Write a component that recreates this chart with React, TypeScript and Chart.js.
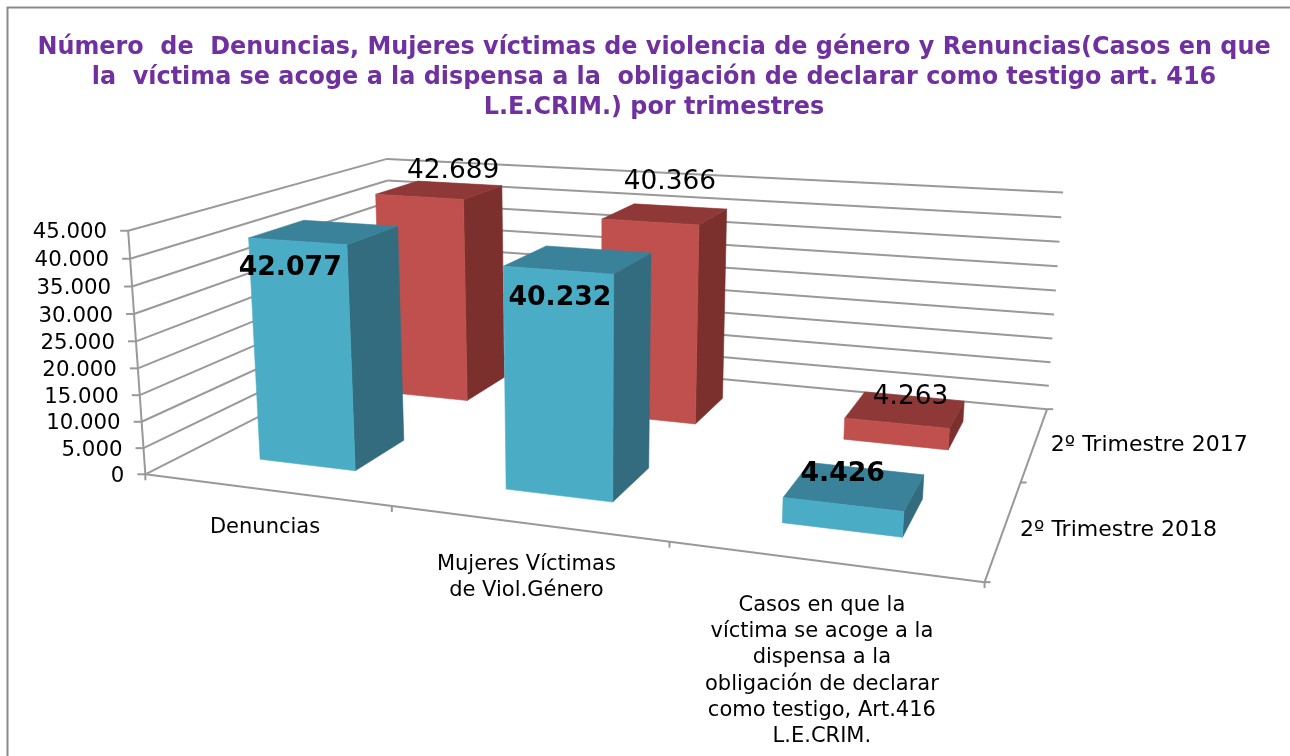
import React, { useEffect, useRef } from "react";
import { Chart, registerables } from "chart.js";

Chart.register(...registerables);

// ---- data ----
const categories: string[][] = [
  ["Denuncias"],
  ["Mujeres Víctimas", "de Viol.Género"],
  ["Casos en que la", "víctima se acoge a la", "dispensa a la", "obligación de declarar", "como testigo, Art.416", "L.E.CRIM."],
];
const seriesNames = ["2º Trimestre 2018", "2º Trimestre 2017"];
const values2018 = [42077, 40232, 4426];
const values2017 = [42689, 40366, 4263];
const titleLines = [
  "Número  de  Denuncias, Mujeres víctimas de violencia de género y Renuncias(Casos en que",
  "la  víctima se acoge a la dispensa a la  obligación de declarar como testigo art. 416",
  "L.E.CRIM.) por trimestres",
];

// ---- styles ----
const FONT = '"DejaVu Sans", Verdana, sans-serif';
const PURPLE = "#7030A0";
const GRID = "#999999";
const seriesColors = [
  { front: "#4BACC6", top: "#3A8299", side: "#326C7E" },
  { front: "#C0504D", top: "#8E3937", side: "#7C302E" },
];
// label placement relative to the top centre of a bar's front face
const labelOffsets = [
  [[-7, 27], [2, 28], [0, -30]],
  [[34, -26], [20, -40], [14, -26]],
];

// ---- view calibration of the 3D box: [u, v, w, screenX, screenY] ----
const viewPoints: number[][] = [
  [0, 0, 0, 146, 474.5], [1, 0, 0, 985, 582], [1, 0, 1, 1047, 409], [0, 0, 1, 392, 349],
  [1 / 3, 0, 0, 392, 506], [2 / 3, 0, 0, 669, 541.5], [1, 0, 0.5, 1021, 482],
  [0, 1, 0, 128, 230.5], [0, 1, 1, 388, 158], [1, 1, 1, 1063, 193],
  [0.1, 0.935, 0.15, 249, 238], [0.236, 0.935, 0.15, 348, 245], [0.236, 0.935, 0.35, 399, 227],
];

function fitView(points: number[][]): number[] {
  const n = 11;
  const A: number[][] = Array.from({ length: n }, () => new Array(n + 1).fill(0));
  const add = (row: number[], rhs: number) => {
    for (let i = 0; i < n; i++) {
      for (let j = 0; j < n; j++) A[i][j] += row[i] * row[j];
      A[i][n] += row[i] * rhs;
    }
  };
  for (const [u, v, w, sx, sy] of points) {
    const x = sx / 1000, y = sy / 1000;
    add([u, v, w, 1, 0, 0, 0, 0, -x * u, -x * v, -x * w], x);
    add([0, 0, 0, 0, u, v, w, 1, -y * u, -y * v, -y * w], y);
  }
  for (let c = 0; c < n; c++) {
    let p = c;
    for (let r = c + 1; r < n; r++) if (Math.abs(A[r][c]) > Math.abs(A[p][c])) p = r;
    [A[c], A[p]] = [A[p], A[c]];
    for (let r = 0; r < n; r++) {
      if (r === c) continue;
      const f = A[r][c] / A[c][c];
      for (let k = c; k <= n; k++) A[r][k] -= f * A[c][k];
    }
  }
  return A.map((row, i) => row[n] / row[i]);
}
const M = fitView(viewPoints);
const project = (u: number, v: number, w: number): [number, number] => {
  const d = M[8] * u + M[9] * v + M[10] * w + 1;
  return [
    (1000 * (M[0] * u + M[1] * v + M[2] * w + M[3])) / d,
    (1000 * (M[4] * u + M[5] * v + M[6] * w + M[7])) / d,
  ];
};

const fmt = (n: number) => String(n).replace(/\B(?=(\d{3})+(?!\d))/g, ".");
const DEPTH = 0.4; // bar depth as a share of its series slot

function line(ctx: CanvasRenderingContext2D, a: number[], b: number[]) {
  ctx.beginPath();
  ctx.moveTo(a[0], a[1]);
  ctx.lineTo(b[0], b[1]);
  ctx.stroke();
}
function quad(ctx: CanvasRenderingContext2D, pts: number[][], fill: string) {
  ctx.beginPath();
  pts.forEach((p, i) => (i ? ctx.lineTo(p[0], p[1]) : ctx.moveTo(p[0], p[1])));
  ctx.closePath();
  ctx.fillStyle = fill;
  ctx.strokeStyle = fill;
  ctx.lineWidth = 0.6;
  ctx.fill();
  ctx.stroke();
}

const box3d = {
  id: "box3d",
  beforeDatasetsDraw(chart: any) {
    const ctx: CanvasRenderingContext2D = chart.ctx;
    const y = chart.scales.y;
    const x = chart.scales.x;
    const area = chart.chartArea;
    ctx.save();
    // outer frame (right and bottom edges lie outside the picture)
    ctx.strokeStyle = "#8a8a8a";
    ctx.lineWidth = 2;
    ctx.strokeRect(7.5, 7.5, 1320, 800);

    ctx.strokeStyle = GRID;
    ctx.lineWidth = 2;
    ctx.lineCap = "butt";
    // walls
    for (const t of y.ticks) {
      const v = (area.bottom - y.getPixelForValue(t.value)) / area.height;
      line(ctx, project(0, v, 0), project(0, v, 1));
      line(ctx, project(0, v, 1), project(1, v, 1));
      const p = project(0, v, 0);
      line(ctx, p, [p[0] - 8, p[1]]);
    }
    // axes
    line(ctx, project(0, 0, 0), project(0, 1, 0));
    line(ctx, project(0, 0, 0), project(1, 0, 0));
    line(ctx, project(1, 0, 0), project(1, 0, 1));
    // category ticks
    for (let i = 0; i <= categories.length; i++) {
      const p = project(i / categories.length, 0, 0);
      line(ctx, p, [p[0], p[1] + 6]);
    }
    // depth ticks
    for (let i = 0; i <= seriesNames.length; i++) {
      const p = project(1, 0, i / seriesNames.length);
      line(ctx, p, [p[0] + 6, p[1]]);
    }
    // labels
    ctx.fillStyle = "#000";
    ctx.textBaseline = "middle";
    ctx.font = `21.3px ${FONT}`;
    ctx.textAlign = "right";
    for (const t of y.ticks) {
      const v = (area.bottom - y.getPixelForValue(t.value)) / area.height;
      const p = project(0, v, 0);
      ctx.fillText(t.label, p[0] - 21, p[1] + 2);
    }
    ctx.font = `21px ${FONT}`;
    ctx.textAlign = "center";
    categories.forEach((_, i) => {
      const u = (x.getPixelForValue(i) - area.left) / area.width;
      const p = project(u, 0, 0);
      const lines = x.getLabelForValue(i) as unknown as string[];
      lines.forEach((s: string, k: number) => {
        ctx.fillText(s, p[0], p[1] + 36.5 + 9 * u + k * 26.3);
      });
    });
    ctx.font = `22px ${FONT}`;
    ctx.textAlign = "left";
    chart.data.datasets.forEach((ds: any, i: number) => {
      const p = project(1, 0, (i + 0.5) / chart.data.datasets.length);
      ctx.fillText(ds.label, p[0] + 16, p[1] + 2.5);
    });
    ctx.restore();
  },
  beforeDatasetDraw(chart: any, args: any) {
    const ctx: CanvasRenderingContext2D = chart.ctx;
    const area = chart.chartArea;
    const meta = args.meta;
    const i = args.index;
    const n = chart.data.datasets.length;
    const c = seriesColors[i];
    const w0 = (i + 0.5 - DEPTH / 2) / n;
    const w1 = (i + 0.5 + DEPTH / 2) / n;
    ctx.save();
    meta.data.forEach((el: any) => {
      const u0 = (el.x - el.width / 2 - area.left) / area.width;
      const u1 = (el.x + el.width / 2 - area.left) / area.width;
      const v = (el.base - el.y) / area.height;
      quad(ctx, [project(u1, 0, w0), project(u1, v, w0), project(u1, v, w1), project(u1, 0, w1)], c.side);
      quad(ctx, [project(u0, v, w0), project(u1, v, w0), project(u1, v, w1), project(u0, v, w1)], c.top);
      quad(ctx, [project(u0, 0, w0), project(u1, 0, w0), project(u1, v, w0), project(u0, v, w0)], c.front);
    });
    ctx.restore();
    return false;
  },
  afterDatasetsDraw(chart: any) {
    const ctx: CanvasRenderingContext2D = chart.ctx;
    const area = chart.chartArea;
    const n = chart.data.datasets.length;
    ctx.save();
    ctx.fillStyle = "#000";
    ctx.textAlign = "center";
    ctx.textBaseline = "middle";
    chart.data.datasets.forEach((ds: any, i: number) => {
      ctx.font = i === 0 ? `bold 26.7px ${FONT}` : `26.4px ${FONT}`;
      const w0 = (i + 0.5 - DEPTH / 2) / n;
      chart.getDatasetMeta(i).data.forEach((el: any, k: number) => {
        const u = (el.x - area.left) / area.width;
        const v = (el.base - el.y) / area.height;
        const p = project(u, v, w0);
        ctx.fillText(fmt(ds.data[k]), p[0] + labelOffsets[i][k][0], p[1] + labelOffsets[i][k][1]);
      });
    });
    ctx.restore();
  },
};

export default function App() {
  const ref = useRef<HTMLCanvasElement>(null);
  useEffect(() => {
    document.body.style.margin = "0";
    const chart = new Chart(ref.current!, {
      type: "bar",
      data: {
        labels: categories as any,
        datasets: [
          { label: seriesNames[0], data: values2018, backgroundColor: seriesColors[0].front },
          { label: seriesNames[1], data: values2017, backgroundColor: seriesColors[1].front },
        ],
      },
      options: {
        responsive: false,
        animation: false,
        grouped: false,
        categoryPercentage: 1,
        barPercentage: 0.4,
        layout: { padding: { left: 18, top: 0, right: 0, bottom: 0 } },
        plugins: {
          legend: { display: false },
          tooltip: { enabled: false },
          title: {
            display: true,
            text: titleLines,
            color: PURPLE,
            font: { family: FONT, size: 23.9, weight: "bold", lineHeight: 1.26 },
            padding: { top: 33, bottom: 10 },
          },
        },
        scales: {
          x: { display: false },
          y: {
            display: false,
            min: 0,
            max: 45000,
            ticks: { stepSize: 5000, callback: (v: any) => fmt(Number(v)) },
          },
        },
      } as any,
      plugins: [box3d as any],
    });
    return () => chart.destroy();
  }, []);
  return <canvas ref={ref} width={1290} height={756} style={{ display: "block" }} />;
}
